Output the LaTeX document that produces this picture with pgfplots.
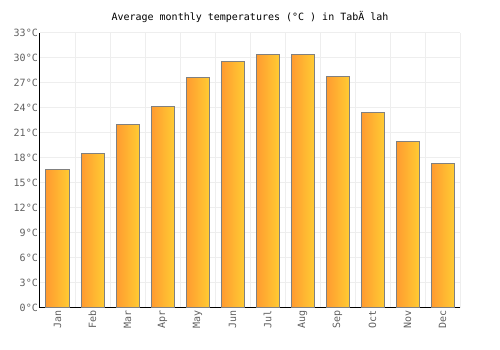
\documentclass[border=0pt]{standalone}
\usepackage{pgfplots}
\pgfplotsset{compat=1.18}
\usepackage{fontspec}
\setmainfont{DejaVu Sans Mono}
\definecolor{barL}{HTML}{FF9A30}
\definecolor{barR}{HTML}{FFCB33}
\definecolor{gridc}{HTML}{EEEEEE}
\definecolor{tickc}{HTML}{606060}
\begin{document}
\begin{tikzpicture}[x=1pt,y=1pt]
\useasboundingbox (0,0) rectangle (500,350);
\node[font=\fontsize{10}{12}\selectfont] at (250,333) {Average monthly temperatures (°C ) in TabÄ lah};
\begin{axis}[
  at={(40pt,42pt)}, anchor=south west,
  scale only axis, width=420pt, height=275pt,
  xmin=-0.5, xmax=11.5, ymin=0, ymax=33,
  axis x line=bottom, axis y line=left,
  axis line style={-, black, line width=1pt},
  xtick={0,...,11},
  xticklabels={Jan,Feb,Mar,Apr,May,Jun,Jul,Aug,Sep,Oct,Nov,Dec},
  minor xtick={-0.5,0.5,...,11.5},
  xminorgrids=true, xmajorgrids=false,
  ytick={0,3,...,33},
  yticklabels={0°C,3°C,6°C,9°C,12°C,15°C,18°C,21°C,24°C,27°C,30°C,33°C},
  ymajorgrids=true,
  grid style={gridc, line width=1pt},
  minor grid style={gridc, line width=1pt},
  major tick length=0pt, minor tick length=0pt,
  tick style={draw=none},
  ticklabel style={font=\fontsize{10}{12}\selectfont, text=tickc},
  xticklabel style={rotate=90, anchor=east, inner sep=2pt},
  yticklabel style={inner sep=2pt},
  bb/.style={ybar, bar width=23pt, bar shift=0pt, draw=gray, line width=1pt, left color=barL, right color=barR},
]
\addplot[bb] coordinates {(0,16.6)};
\addplot[bb] coordinates {(1,18.5)};
\addplot[bb] coordinates {(2,22.0)};
\addplot[bb] coordinates {(3,24.2)};
\addplot[bb] coordinates {(4,27.6)};
\addplot[bb] coordinates {(5,29.6)};
\addplot[bb] coordinates {(6,30.4)};
\addplot[bb] coordinates {(7,30.4)};
\addplot[bb] coordinates {(8,27.8)};
\addplot[bb] coordinates {(9,23.4)};
\addplot[bb] coordinates {(10,20.0)};
\addplot[bb] coordinates {(11,17.3)};
\end{axis}
\end{tikzpicture}
\end{document}
